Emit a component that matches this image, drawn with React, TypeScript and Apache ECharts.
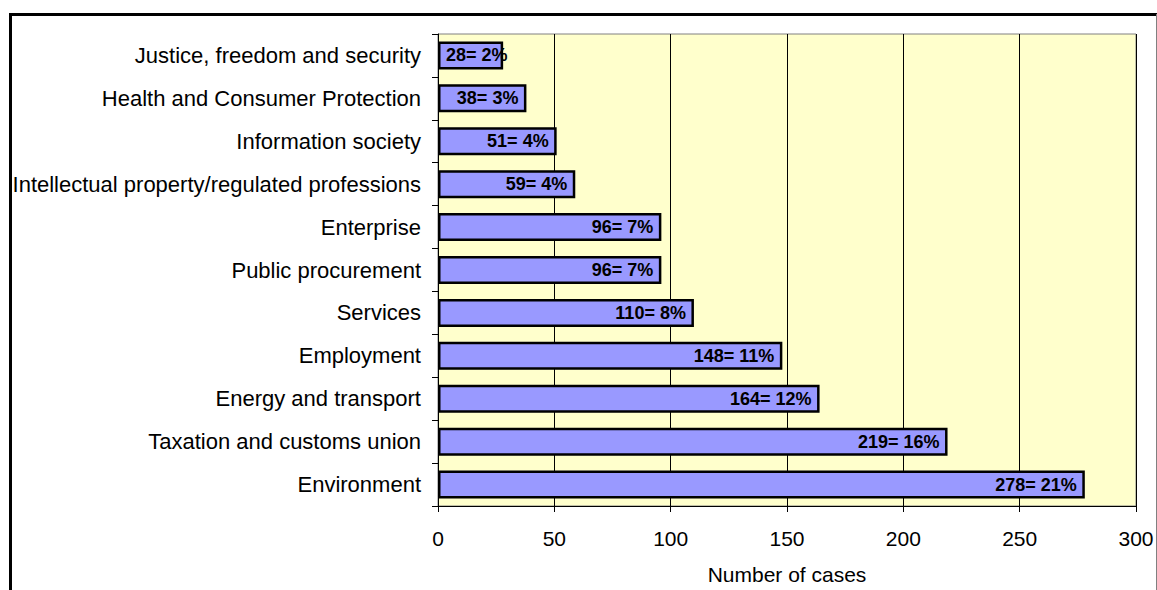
import React, { useEffect, useRef } from "react";
import * as echarts from "echarts";

const categories = [
  "Justice, freedom and security",
  "Health and Consumer Protection",
  "Information society",
  "Intellectual property/regulated professions",
  "Enterprise",
  "Public procurement",
  "Services",
  "Employment",
  "Energy and transport",
  "Taxation and customs union",
  "Environment",
];
const cases = [28, 38, 51, 59, 96, 96, 110, 148, 164, 219, 278];
const percents = [2, 3, 4, 4, 7, 7, 8, 11, 12, 16, 21];
const xTicks = [0, 50, 100, 150, 200, 250, 300];

const FONT = "Arial, 'Liberation Sans', Helvetica, sans-serif";

export default function App() {
  const ref = useRef<HTMLDivElement>(null);
  useEffect(() => {
    if (!ref.current) return;
    const chart = echarts.init(ref.current, null, { renderer: "svg" });
    const data = cases.map((v) => {
      const small = v < 35;
      return {
        value: v,
        label: {
          position: small ? "insideLeft" : "insideRight",
          distance: 8,
        },
      };
    });
    chart.setOption({
      animation: false,
      backgroundColor: "#ffffff",
      grid: {
        left: 438,
        top: 34,
        right: 21,
        bottom: 79,
        show: true,
        backgroundColor: "#FFFFCC",
        borderColor: "#808080",
        borderWidth: 1,
      },
      xAxis: {
        type: "value",
        min: xTicks[0],
        max: xTicks[xTicks.length - 1],
        interval: 50,
        name: "Number of cases",
        nameLocation: "middle",
        nameGap: 58,
        nameTextStyle: { fontFamily: FONT, fontSize: 21, color: "#000" },
        axisLine: { show: true, lineStyle: { color: "#000", width: 1 } },
        axisTick: { show: true, length: 6, lineStyle: { color: "#000" } },
        axisLabel: {
          fontFamily: FONT,
          fontSize: 21,
          color: "#000",
          margin: 22,
        },
        splitLine: { show: true, lineStyle: { color: "#000", width: 1 } },
      },
      yAxis: {
        type: "category",
        data: categories,
        inverse: true,
        axisLine: { show: true, lineStyle: { color: "#000", width: 1 } },
        axisTick: { show: true, length: 6, lineStyle: { color: "#000" } },
        axisLabel: {
          fontFamily: FONT,
          fontSize: 22,
          color: "#000",
          margin: 17,
        },
        splitLine: { show: false },
      },
      series: [
        {
          type: "bar",
          data,
          barWidth: 28,
          itemStyle: {
            color: "#9999FF",
            borderColor: "#000",
            borderWidth: 2.5,
          },
          label: {
            show: true,
            fontFamily: FONT,
            fontSize: 18,
            fontWeight: "bold",
            color: "#000",
            formatter: (p: any) => `${cases[p.dataIndex]}= ${percents[p.dataIndex]}%`,
          },
        },
      ],
      graphic: [
        {
          type: "line",
          shape: { x1: 9, y1: 14.5, x2: 1157, y2: 14.5 },
          style: { stroke: "#000", lineWidth: 3 },
          z: 100,
        },
        {
          type: "line",
          shape: { x1: 10.5, y1: 13, x2: 10.5, y2: 600 },
          style: { stroke: "#000", lineWidth: 3 },
          z: 100,
        },
        {
          type: "line",
          shape: { x1: 1156.5, y1: 14, x2: 1156.5, y2: 600 },
          style: { stroke: "#808080", lineWidth: 1 },
          z: 100,
        },
      ],
    });
    return () => chart.dispose();
  }, []);
  return (
    <div
      ref={ref}
      style={{ position: "fixed", left: 0, top: 0, width: 1157, height: 590 }}
    />
  );
}
